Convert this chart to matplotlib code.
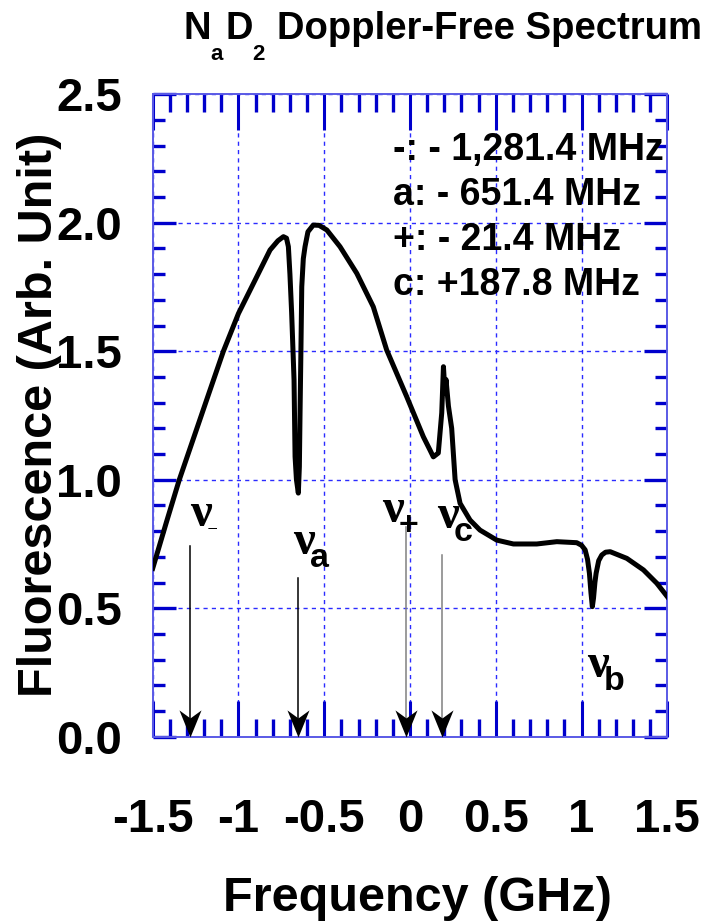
import matplotlib
matplotlib.use("Agg")
import matplotlib.pyplot as plt
from matplotlib.path import Path
from matplotlib.ticker import MultipleLocator, FixedLocator

plt.rcParams['font.family'] = ['Liberation Sans', 'DejaVu Sans']
plt.rcParams['font.weight'] = 'bold'
# nu in a bold serif, subscripts in bold sans
plt.rcParams['mathtext.fontset'] = 'custom'
plt.rcParams['mathtext.rm'] = 'Liberation Serif:bold'
plt.rcParams['mathtext.sf'] = 'Liberation Sans:bold'

# measured fluorescence trace (GHz, arb. unit)
freq = [-1.5, -1.42, -1.345, -1.25, -1.17, -1.088, -1.0, -0.903, -0.816, -0.77,
        -0.738, -0.72, -0.709, -0.700, -0.690, -0.676, -0.670, -0.662, -0.651, -0.645,
        -0.641, -0.636, -0.631, -0.622, -0.612, -0.595, -0.564, -0.53, -0.485, -0.408,
        -0.31, -0.214, -0.136, -0.019, 0.078, 0.117, 0.136, 0.165, 0.185, 0.195,
        0.204, 0.21, 0.224, 0.243, 0.263, 0.292, 0.35, 0.408, 0.506, 0.603,
        0.739, 0.856, 0.972, 1.0, 1.021, 1.035, 1.046, 1.055, 1.063, 1.07,
        1.078, 1.085, 1.1, 1.118, 1.14, 1.167, 1.264, 1.361, 1.439, 1.5]
fluor = [0.655, 0.835, 1.0, 1.185, 1.341, 1.5, 1.647, 1.777, 1.894, 1.93,
         1.946, 1.94, 1.907, 1.80, 1.65, 1.388, 1.09, 1.0, 0.948, 1.05,
         1.26, 1.50, 1.751, 1.86, 1.907, 1.965, 1.991, 1.99, 1.972, 1.907,
         1.803, 1.673, 1.505, 1.323, 1.167, 1.115, 1.089, 1.104, 1.26, 1.44,
         1.337, 1.39, 1.287, 1.2, 1.0, 0.908, 0.843, 0.804, 0.765, 0.750,
         0.750, 0.759, 0.755, 0.745, 0.727, 0.69, 0.636, 0.56, 0.506, 0.54,
         0.60, 0.636, 0.685, 0.707, 0.718, 0.720, 0.694, 0.649, 0.597, 0.545]

# crossover / transition offsets
line_keys = ['-', 'a', '+', 'c']
line_mhz = [-1281.4, -651.4, -21.4, 187.8]
arrow_top = [0.744, 0.617, 0.816, 0.707]
arrow_color = ['black', 'black', '#808080', '#808080']

# nu labels: subscript, x, y (baseline, data coords)
nu_subs = ['\u2010', 'a', '+', 'c', 'b']
nu_x = [-1.2825, -0.682, -0.163, 0.158, 1.033]
nu_y = [0.845, 0.708, 0.845, 0.81, 0.232]

x_ticks = [-1.5, -1, -0.5, 0, 0.5, 1, 1.5]
x_tick_labels = ['-1.5', '-1', '-0.5', '0', '0.5', '1', '1.5']
y_ticks = [0.0, 0.5, 1.0, 1.5, 2.0, 2.5]
y_tick_labels = ['0.0', '0.5', '1.0', '1.5', '2.0', '2.5']

W, H = 707, 924
fig = plt.figure(figsize=(W / 100, H / 100), dpi=100)
ax = fig.add_axes([152.7 / W, 1 - 736.7 / H, 514.6 / W, 642.4 / H])

blue = '#0000cc'
ax.set_xlim(-1.5, 1.5)
ax.set_ylim(0, 2.5)
ax.xaxis.set_major_locator(FixedLocator(x_ticks))
ax.set_xticklabels(x_tick_labels)
ax.xaxis.set_minor_locator(MultipleLocator(0.1))
ax.yaxis.set_major_locator(FixedLocator(y_ticks))
ax.set_yticklabels(y_tick_labels)
ax.yaxis.set_minor_locator(MultipleLocator(0.1))

ax.tick_params(axis='x', which='major', direction='in', length=26, width=2.2,
               color=blue, top=True, bottom=True, pad=44, labelsize=34)
ax.tick_params(axis='x', which='minor', direction='in', length=13, width=2.4,
               color=blue, top=True, bottom=True)
ax.tick_params(axis='y', which='major', direction='in', length=16.5, width=2.4,
               color=blue, left=True, right=True, pad=22, labelsize=34)
ax.tick_params(axis='y', which='minor', direction='in', length=8.5, width=2.4,
               color=blue, left=True, right=True)
for s in ax.spines.values():
    s.set_color('#5a5ae6')
    s.set_linewidth(1.4)

ax.grid(True, which='major', color='#2b2bff', linestyle=(0, (3, 3)), linewidth=1.0)
ax.set_axisbelow(True)

ax.plot(freq, fluor, color='black', linewidth=3.6, solid_joinstyle='round', zorder=3)

# notched arrow head, tip at the origin
head = Path([(0, 0), (-11, 27), (0, 19), (11, 27), (0, 0)],
            [Path.MOVETO, Path.LINETO, Path.LINETO, Path.LINETO, Path.CLOSEPOLY])
for mhz, top, col in zip(line_mhz, arrow_top, arrow_color):
    xg = mhz / 1000.0
    ax.plot([xg, xg], [top, 0.02], color=col, linewidth=1.1, zorder=4, clip_on=False)
    ax.plot([xg], [0.0], marker=head, markersize=39, color='black',
            markeredgewidth=0, zorder=5, clip_on=False)

# nu labels; the empty superscript pushes the subscript lower
for sub, xn, yn in zip(nu_subs, nu_x, nu_y):
    ax.text(xn, yn, r'$\mathrm{\nu}^{}_{\hspace{-0.17}\mathsf{%s}}$' % sub,
            fontsize=35, ha='left', va='baseline', zorder=6)


def fmt_offset(v):
    return ('- ' if v < 0 else '+') + f'{abs(v):,.1f}'


for i, (k, v) in enumerate(zip(line_keys, line_mhz)):
    ax.annotate(f'{k}: {fmt_offset(v)} MHz', xy=(-0.1, 2.244),
                xytext=(0, -32.4 * i), textcoords='offset points',
                fontsize=27, ha='left', va='baseline', zorder=6)


# title with subscripts
def ftxt(px, py, s, size):
    fig.text(px / W, 1 - py / H, s, fontsize=size, ha='left', va='baseline')


ftxt(184, 39, 'N', 27.5)
ftxt(210, 60, 'a', 16)
ftxt(225, 39, 'D', 27.5)
ftxt(252, 60, '2', 16)
ftxt(277, 39, 'Doppler-Free Spectrum', 27.5)

fig.text(417 / W, 1 - 911 / H, 'Frequency (GHz)', fontsize=35,
         ha='center', va='baseline')
fig.text(40 / W, 1 - 415 / H, 'Fluorescence (Arb. Unit)', fontsize=35,
         rotation=90, ha='center', va='center')

fig.savefig('out.png', dpi=100)
